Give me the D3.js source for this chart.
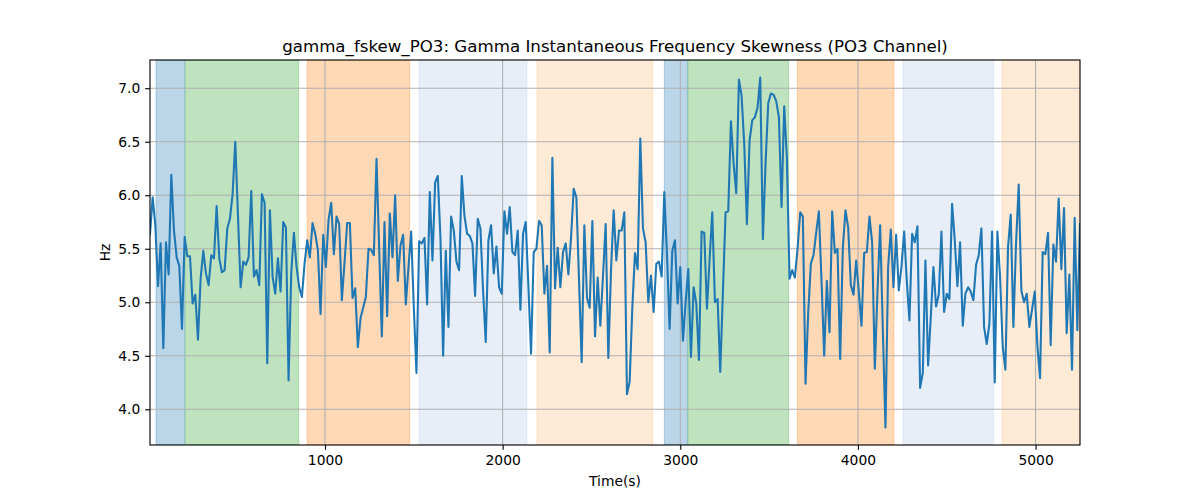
<!DOCTYPE html>
<html>
<head>
<meta charset="utf-8">
<script src="https://cdn.jsdelivr.net/npm/d3@7"></script>
<style>
  html, body { margin: 0; padding: 0; background: #fff; }
  svg { display: block; font-family: "DejaVu Sans", sans-serif; }
</style>
</head>
<body>
<svg id="chart" width="1200" height="500"></svg>
<script>
// ---- data ----
const titleText = "gamma_fskew_PO3: Gamma Instantaneous Frequency Skewness (PO3 Channel)";
const xLabelText = "Time(s)";
const yLabelText = "Hz";
const timeStart = 15;   // seconds, first sample
const timeStep = 15;    // seconds between samples
const skewValues = [
  5.64, 5.98, 5.72, 5.15, 5.55, 4.57, 5.56, 5.26, 6.19, 5.67, 5.42, 5.34, 4.75, 5.61, 5.43, 5.43, 4.99, 5.07, 4.65, 5.22, 5.48, 5.27, 5.16, 5.44, 5.41, 5.90, 5.41, 5.28, 5.30,
  5.69, 5.78, 6.01, 6.50, 5.82, 5.14, 5.38, 5.35, 5.42, 6.04, 5.24, 5.30, 5.16, 6.01, 5.93, 4.43, 5.86, 5.24, 5.08, 5.41, 5.10, 5.75, 5.70, 4.27, 5.27, 5.65, 5.33, 5.14, 5.05, 5.36,
  5.58, 5.42, 5.74, 5.64, 5.49, 4.89, 5.63, 5.33, 5.77, 5.93, 5.45, 5.80, 5.73, 5.02, 5.37, 5.74, 5.74, 5.04, 5.13, 4.58, 4.85, 4.95, 5.05, 5.50, 5.49, 5.44, 6.34, 5.50, 4.68,
  5.75, 4.87, 5.83, 5.42, 6.00, 5.20, 5.53, 5.63, 4.98, 5.33, 5.66, 4.95, 4.34, 5.57, 5.55, 5.60, 4.98, 6.03, 5.39, 6.12, 6.18, 5.60, 4.50, 5.48, 4.77, 5.80, 5.67, 5.38, 5.30, 6.18,
  5.81, 5.64, 5.62, 5.55, 5.06, 5.78, 5.69, 5.10, 4.63, 5.58, 5.72, 5.27, 5.52, 5.14, 5.08, 5.85, 5.64, 5.89, 5.47, 5.44, 5.67, 4.93, 5.64, 5.75, 5.15, 4.52, 5.47, 5.50, 5.76,
  5.72, 5.08, 5.34, 4.53, 6.35, 5.13, 5.51, 5.14, 5.47, 5.55, 5.26, 5.60, 6.06, 5.98, 5.20, 4.44, 5.72, 5.04, 4.95, 5.76, 4.68, 5.23, 4.78, 5.25, 5.73, 4.48, 5.30, 5.86, 5.39,
  5.67, 5.67, 5.84, 4.14, 4.26, 4.95, 5.46, 5.31, 6.53, 5.69, 5.56, 5.00, 5.25, 4.91, 5.36, 5.38, 5.24, 6.03, 5.45, 4.75, 5.48, 5.58, 4.99, 5.33, 4.64, 5.00, 5.31, 4.49, 5.14,
  4.99, 4.46, 5.66, 5.65, 4.94, 5.40, 5.84, 5.00, 5.03, 4.35, 5.10, 5.84, 5.85, 6.69, 6.30, 6.02, 7.08, 6.93, 6.48, 5.73, 6.51, 6.70, 6.73, 6.82, 7.10, 5.59, 6.30, 6.86, 6.95, 6.94,
  6.88, 6.73, 5.89, 6.83, 6.35, 5.22, 5.30, 5.23, 5.50, 5.84, 5.80, 4.24, 4.90, 5.36, 5.44, 5.65, 5.85, 5.20, 4.50, 5.20, 4.72, 5.85, 5.46, 5.50, 4.47, 5.51, 5.86, 5.70, 5.16,
  5.07, 5.39, 5.10, 4.78, 5.46, 5.47, 5.80, 5.56, 4.38, 5.10, 5.72, 4.75, 3.83, 5.33, 5.68, 5.14, 5.63, 5.11, 5.33, 5.66, 5.20, 4.83, 5.64, 5.56, 5.71, 4.20, 4.34, 5.39, 4.41,
  4.86, 5.33, 4.96, 5.07, 5.66, 4.91, 5.08, 5.03, 5.92, 5.58, 5.15, 5.56, 4.78, 5.08, 5.14, 5.10, 5.02, 5.35, 5.44, 5.69, 4.77, 4.61, 4.80, 5.66, 4.25, 5.66, 5.24, 4.58, 4.37,
  5.52, 5.82, 4.77, 5.55, 6.10, 5.11, 5.00, 5.08, 4.77, 4.93, 5.10, 4.60, 4.29, 5.47, 5.45, 5.65, 4.60, 5.54, 5.38, 5.97, 5.31, 5.88, 4.71, 5.26, 4.37, 5.79, 4.74, 5.73
];
const bandStart = [49, 214, 899, 1529, 2193, 2910, 3043, 3659, 4254, 4811];
const bandEnd   = [210, 852, 1477, 2137, 2845, 3040, 3610, 4203, 4764, 5250];
const bandKind  = ["blue", "green", "orange", "lightblue", "lightorange", "blue", "green", "orange", "lightblue", "lightorange"];
const xTickValues = [1000, 2000, 3000, 4000, 5000];
const yTickValues = [4.0, 4.5, 5.0, 5.5, 6.0, 6.5, 7.0];

// ---- styles ----
const bandColor = { blue: "#1f77b4", green: "#2ca02c", orange: "#ff7f0e", lightblue: "#aec7e8", lightorange: "#ffbb78" };
const margin = { left: 150, right: 120, top: 60, bottom: 55 };
const W = 1200, H = 500;
const pt = 100 / 72;
const tickFont = (10 * pt) + "px", titleFont = (12 * pt) + "px";

const points = skewValues.map((v, i) => ({ t: timeStart + i * timeStep, v }));
const tMin = d3.min(points, d => d.t), tMax = d3.max(points, d => d.t);
const vMin = d3.min(skewValues), vMax = d3.max(skewValues);
const pad = (vMax - vMin) * 0.05;

const x = d3.scaleLinear().domain([tMin, tMax]).range([margin.left, W - margin.right]);
const y = d3.scaleLinear().domain([vMin - pad, vMax + pad]).range([H - margin.bottom, margin.top]);

const svg = d3.select("#chart");
const x0 = margin.left, x1 = W - margin.right, y0 = margin.top, y1 = H - margin.bottom;

svg.append("defs").append("clipPath").attr("id", "clip")
  .append("rect").attr("x", x0).attr("y", y0).attr("width", x1 - x0).attr("height", y1 - y0);

// bands
const bands = bandStart.map((s, i) => ({ s, e: bandEnd[i], k: bandKind[i] }));
const bandG = svg.append("g").attr("clip-path", "url(#clip)");
bandG.selectAll("rect").data(bands).join("rect")
  .attr("x", d => x(d.s)).attr("width", d => x(d.e) - x(d.s))
  .attr("y", y0).attr("height", y1 - y0)
  .attr("fill", d => bandColor[d.k]).attr("fill-opacity", 0.3)
  .attr("stroke", d => bandColor[d.k]).attr("stroke-opacity", 0.3).attr("stroke-width", 1);

// grid
const grid = svg.append("g");
grid.selectAll(".gx").data(xTickValues).join("line")
  .attr("x1", d => x(d)).attr("x2", d => x(d)).attr("y1", y0).attr("y2", y1)
  .attr("stroke", "#b0b0b0").attr("stroke-width", 0.8 * pt);
grid.selectAll(".gy").data(yTickValues).join("line")
  .attr("y1", d => y(d)).attr("y2", d => y(d)).attr("x1", x0).attr("x2", x1)
  .attr("stroke", "#b0b0b0").attr("stroke-width", 0.8 * pt);

// line
svg.append("path").datum(points)
  .attr("clip-path", "url(#clip)")
  .attr("fill", "none").attr("stroke", "#1f77b4").attr("stroke-width", 1.5 * pt)
  .attr("stroke-linejoin", "round").attr("stroke-linecap", "square")
  .attr("d", d3.line().x(d => x(d.t)).y(d => y(d.v)));

// axes
const xAxis = svg.append("g").attr("transform", `translate(0,${y1})`)
  .call(d3.axisBottom(x).tickValues(xTickValues).tickFormat(d3.format("d")).tickSize(3.5 * pt).tickPadding(3.5 * pt));
const yAxis = svg.append("g").attr("transform", `translate(${x0},0)`)
  .call(d3.axisLeft(y).tickValues(yTickValues).tickFormat(d3.format(".1f")).tickSize(3.5 * pt).tickPadding(3.5 * pt));
[xAxis, yAxis].forEach(a => {
  a.select(".domain").remove();
  a.selectAll(".tick line").attr("stroke", "#000").attr("stroke-width", 0.8 * pt);
  a.selectAll(".tick text").attr("fill", "#000").style("font-family", "DejaVu Sans").style("font-size", tickFont);
});

// spines
svg.append("rect").attr("x", x0).attr("y", y0).attr("width", x1 - x0).attr("height", y1 - y0)
  .attr("fill", "none").attr("stroke", "#000").attr("stroke-width", 0.8 * pt);

// labels
svg.append("text").attr("x", (x0 + x1) / 2).attr("y", 52).attr("text-anchor", "middle")
  .style("font-size", titleFont).attr("fill", "#000").text(titleText);
svg.append("text").attr("x", (x0 + x1) / 2).attr("y", 486).attr("text-anchor", "middle")
  .style("font-size", tickFont).attr("fill", "#000").text(xLabelText);
svg.append("text").attr("transform", `translate(110,${(y0 + y1) / 2}) rotate(-90)`).attr("text-anchor", "middle")
  .style("font-size", tickFont).attr("fill", "#000").text(yLabelText);
</script>
</body>
</html>
